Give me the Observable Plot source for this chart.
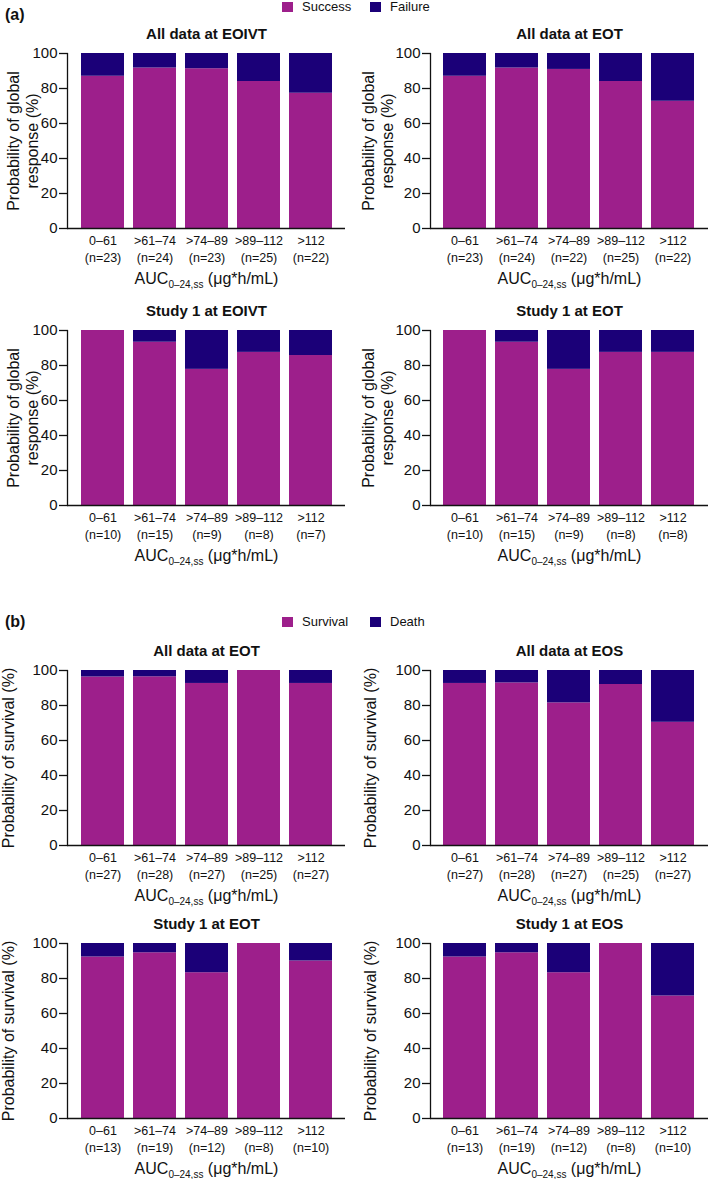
<!DOCTYPE html>
<html><head><meta charset="utf-8">
<script src="https://cdn.jsdelivr.net/npm/d3@7"></script>
<script src="https://cdn.jsdelivr.net/npm/@observablehq/plot@0.6"></script>
<style>
body{margin:0;background:#fff;}
#wrap{position:relative;width:709px;height:1179px;font-family:"Liberation Sans",Arial,Helvetica,sans-serif;color:#111;overflow:hidden;background:#fff}
.panel{position:absolute}
.sw{position:absolute;width:11px;height:10px}
.lt{position:absolute;font-size:13px;line-height:14px;white-space:nowrap}
.lab{position:absolute;font-weight:bold;font-size:16px;line-height:18px}
</style></head><body><div id="wrap"></div>
<script>
// ---- data ----
const categories = ["0–61", ">61–74", ">74–89", ">89–112", ">112"];
const outcomesA = ["Success", "Failure"];
const outcomesB = ["Survival", "Death"];
const colorsOutcome = ["#9d1f8b", "#1b0078"];

const titleA1 = "All data at EOIVT";
const nA1 = [23, 24, 23, 25, 22];
const successA1 = [87.0, 91.7, 91.3, 84.0, 77.3];

const titleA2 = "All data at EOT";
const nA2 = [23, 24, 22, 25, 22];
const successA2 = [87.0, 91.7, 90.9, 84.0, 72.7];

const titleA3 = "Study 1 at EOIVT";
const nA3 = [10, 15, 9, 8, 7];
const successA3 = [100, 93.3, 77.8, 87.5, 85.7];

const titleA4 = "Study 1 at EOT";
const nA4 = [10, 15, 9, 8, 8];
const successA4 = [100, 93.3, 77.8, 87.5, 87.5];

const titleB1 = "All data at EOT";
const nB1 = [27, 28, 27, 25, 27];
const survivalB1 = [96.3, 96.4, 92.6, 100, 92.6];

const titleB2 = "All data at EOS";
const nB2 = [27, 28, 27, 25, 27];
const survivalB2 = [92.6, 92.9, 81.5, 92.0, 70.4];

const titleB3 = "Study 1 at EOT";
const nB3 = [13, 19, 12, 8, 10];
const survivalB3 = [92.3, 94.7, 83.3, 100, 90.0];

const titleB4 = "Study 1 at EOS";
const nB4 = [13, 19, 12, 8, 10];
const survivalB4 = [92.3, 94.7, 83.3, 100, 70.0];

const yLabelA = "Probability of global\nresponse (%)";
const yLabelB = "Probability of survival (%)";
const yTicks = [0, 20, 40, 60, 80, 100];
const xTitleMain = "AUC", xTitleSub = "0–24,ss", xTitleUnit = " (μg*h/mL)";

// ---- layout ----
const FONT = '"Liberation Sans", Arial, Helvetica, sans-serif';
const cols = [
  {left: 0, marginLeft: 67, marginRight: 10, range: [78.7, 334.3], dxA: -45, dxB: -60},
  {left: 354, marginLeft: 76, marginRight: 1, range: [86.7, 342], dxA: -53, dxB: -61}
];
const frameTops = [53, 330, 670, 943];
const MT = 45, FH = 175, MB = 65;

const panels = [
  {title: titleA1, n: nA1, s: successA1, out: outcomesA, ylab: yLabelA, col: 0, row: 0, kind: "A"},
  {title: titleA2, n: nA2, s: successA2, out: outcomesA, ylab: yLabelA, col: 1, row: 0, kind: "A"},
  {title: titleA3, n: nA3, s: successA3, out: outcomesA, ylab: yLabelA, col: 0, row: 1, kind: "A"},
  {title: titleA4, n: nA4, s: successA4, out: outcomesA, ylab: yLabelA, col: 1, row: 1, kind: "A"},
  {title: titleB1, n: nB1, s: survivalB1, out: outcomesB, ylab: yLabelB, col: 0, row: 2, kind: "B"},
  {title: titleB2, n: nB2, s: survivalB2, out: outcomesB, ylab: yLabelB, col: 1, row: 2, kind: "B"},
  {title: titleB3, n: nB3, s: survivalB3, out: outcomesB, ylab: yLabelB, col: 0, row: 3, kind: "B"},
  {title: titleB4, n: nB4, s: survivalB4, out: outcomesB, ylab: yLabelB, col: 1, row: 3, kind: "B"}
];

const wrap = document.getElementById("wrap");
const NS = "http://www.w3.org/2000/svg";

for (const p of panels) {
  const c = cols[p.col];
  const rows = [];
  categories.forEach((cat, i) => {
    rows.push({cat, outcome: p.out[0], value: p.s[i]});
    rows.push({cat, outcome: p.out[1], value: 100 - p.s[i]});
  });
  const chart = Plot.plot({
    width: 355, height: MT + FH + MB,
    marginLeft: c.marginLeft, marginRight: c.marginRight, marginTop: MT, marginBottom: MB,
    style: {background: "transparent", overflow: "visible", fontFamily: FONT, color: "#111"},
    x: {domain: categories, range: c.range, paddingInner: 0.17, paddingOuter: 0},
    y: {domain: [0, 100]},
    color: {domain: p.out, range: colorsOutcome},
    marks: [
      Plot.barY(rows, {x: "cat", y: "value", fill: "outcome"}),
      Plot.ruleY([0], {stroke: "#111", strokeWidth: 1.3}),
      Plot.frame({anchor: "left", stroke: "#111", strokeWidth: 1.3}),
      Plot.axisY({ticks: yTicks, tickSize: 8, tickPadding: 2, fontSize: 15, label: null, strokeWidth: 1.3}),
      Plot.axisX({tickSize: 0, tickPadding: 5, fontSize: 12.5, lineHeight: 1.35, label: null,
        tickFormat: d => d + "\n(n=" + p.n[categories.indexOf(d)] + ")"}),
      Plot.text([p.title], {text: d => d, frameAnchor: "top", dy: -19, fontWeight: "bold", fontSize: 15, lineAnchor: "middle"}),
      Plot.text([p.ylab], {text: d => d, frameAnchor: "left", rotate: -90, dx: p.kind === "A" ? c.dxA : c.dxB,
        textAnchor: "middle", fontSize: 16, lineHeight: 1.2, lineAnchor: "middle"}),
      Plot.text([xTitleMain], {text: d => d, frameAnchor: "bottom", dy: 50, fontSize: 16, lineAnchor: "middle", textAnchor: "middle"})
    ]
  });
  chart.classList.add("panel");
  chart.style.left = c.left + "px";
  chart.style.top = (frameTops[p.row] - MT) + "px";
  chart.querySelectorAll("text").forEach(t => {
    if (t.textContent !== xTitleMain || t.children.length) return;
    t.textContent = "";
    const a = document.createElementNS(NS, "tspan"); a.textContent = xTitleMain;
    const b = document.createElementNS(NS, "tspan"); b.textContent = xTitleSub;
    b.setAttribute("font-size", "10"); b.setAttribute("dy", "4");
    const u = document.createElementNS(NS, "tspan"); u.textContent = xTitleUnit;
    u.setAttribute("dy", "-4");
    t.append(a, b, u);
  });
  wrap.appendChild(chart);
}

// ---- section labels and legends ----
function addLabel(txt, top) {
  const d = document.createElement("div"); d.className = "lab";
  d.style.left = "5px"; d.style.top = top + "px"; d.textContent = txt; wrap.appendChild(d);
}
function addLegend(names, centerY) {
  const xs = [[282, 302], [370, 390]];
  names.forEach((nm, i) => {
    const s = document.createElement("div"); s.className = "sw";
    s.style.left = xs[i][0] + "px"; s.style.top = (centerY - 5) + "px"; s.style.background = colorsOutcome[i];
    wrap.appendChild(s);
    const t = document.createElement("div"); t.className = "lt";
    t.style.left = xs[i][1] + "px"; t.style.top = (centerY - 7) + "px"; t.textContent = nm;
    wrap.appendChild(t);
  });
}
addLabel("(a)", 6);
addLegend(outcomesA, 7);
addLabel("(b)", 613);
addLegend(outcomesB, 622);
</script></body></html>
